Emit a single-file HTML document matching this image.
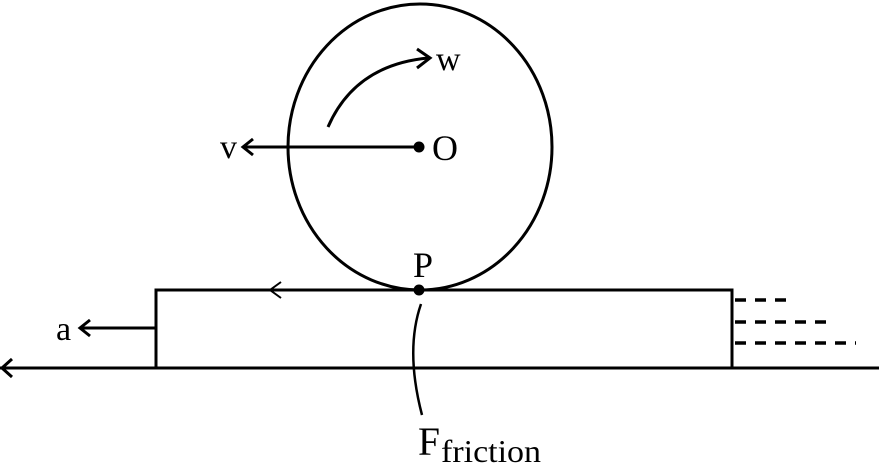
<!DOCTYPE html>
<html><head><style>body{margin:0;background:#fff}svg{display:block}text{font-family:"Liberation Serif",serif;fill:#000}</style></head>
<body><svg width="879" height="465" viewBox="0 0 879 465">
<g stroke="#000" stroke-width="3" fill="none">
<ellipse cx="420" cy="147" rx="132" ry="143"/>
<rect x="156" y="290" width="576" height="78"/>
<line x1="0" y1="368" x2="879" y2="368"/>
<polyline points="12,359 2,368 12,377"/>
<line x1="155" y1="328" x2="80" y2="328"/>
<polyline points="90,320 80,328 90,336"/>
<polyline points="281,282 270,290 281,298" stroke-width="2"/>
<line x1="419" y1="147" x2="243" y2="147"/>
<polyline points="253,139 243,147 253,155"/>
<path d="M328,127 Q355,65 428,58"/>
<polyline points="417,49 430,58 417,68"/>
<path d="M421,304 Q405,350 422,415" stroke-width="2.5"/>
</g>
<g stroke="#000" stroke-width="3.5" stroke-dasharray="11,9">
<line x1="735" y1="300" x2="790" y2="300"/>
<line x1="735" y1="322" x2="832" y2="322"/>
<line x1="735" y1="343" x2="856" y2="343"/>
</g>
<circle cx="419" cy="147" r="5.5"/>
<circle cx="419" cy="290" r="5.5"/>
<text x="220" y="158" font-size="34">v</text>
<text x="432" y="160" font-size="36">O</text>
<text x="436" y="70" font-size="34">w</text>
<text x="413" y="277" font-size="36">P</text>
<text x="56" y="340" font-size="34">a</text>
<text x="418" y="455" font-size="40" textLength="22" lengthAdjust="spacingAndGlyphs">F</text>
<text x="441" y="462" font-size="32" textLength="100" lengthAdjust="spacingAndGlyphs">friction</text>
</svg></body></html>
